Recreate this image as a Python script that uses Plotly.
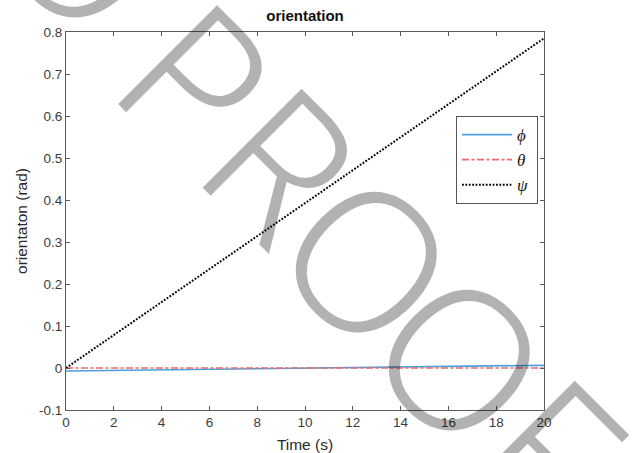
import plotly.graph_objects as go

# ---- data ----
time_s = [0, 5, 10, 15, 20]
phi = [-0.0071, -0.0037, -0.0004, 0.0030, 0.0064]
theta = [0.0, 0.0, 0.0, 0.0, 0.0]
psi = [0.0, 0.196, 0.393, 0.589, 0.785]

x_ticks = [0, 2, 4, 6, 8, 10, 12, 14, 16, 18, 20]
y_ticks = [-0.1, 0, 0.1, 0.2, 0.3, 0.4, 0.5, 0.6, 0.7, 0.8]
y_tick_text = ["-0.1", "0", "0.1", "0.2", "0.3", "0.4", "0.5", "0.6", "0.7", "0.8"]

W, H = 635, 453
L, R, T, B = 66, 91, 32, 43
PW, PH = W - L - R, H - T - B

AX = "#5a5a5a"
FONT = "Liberation Sans, Arial, Helvetica, sans-serif"
NB = "\u00a0"

fig = go.Figure()
fig.add_trace(go.Scatter(x=time_s, y=phi, mode="lines", name="<i>ϕ</i>" + NB,
                         line=dict(color="#4a9fdc", width=1.7)))
fig.add_trace(go.Scatter(x=time_s, y=theta, mode="lines", name="<i>θ</i>" + NB,
                         line=dict(color="#f06a6a", width=1.7, dash="7px,2.5px,3px,2.5px")))
fig.add_trace(go.Scatter(x=time_s, y=psi, mode="lines", name="<i>ψ</i>" + NB,
                         line=dict(color="#000000", width=2, dash="1.8px,1.6px")))

axis_common = dict(showline=True, linecolor=AX, linewidth=1.2, mirror="ticks",
                   ticks="inside", ticklen=4, tickcolor=AX, tickwidth=1,
                   showgrid=False, zeroline=False, automargin=False,
                   tickfont=dict(family=FONT, size=13.5, color="#3c3c3c"))

fig.update_xaxes(range=[0, 20], tickvals=x_ticks, ticktext=[str(v) for v in x_ticks],
                 title=dict(text="Time (s)", font=dict(family=FONT, size=15.5, color="#2a2a2a"),
                            standoff=12),
                 **axis_common)
fig.update_yaxes(range=[-0.1, 0.8], tickvals=y_ticks, ticktext=y_tick_text,
                 title=dict(text="orientaton (rad)", font=dict(family=FONT, size=15.5, color="#2a2a2a"),
                            standoff=7),
                 **axis_common)

# watermark letters (decoration), positions in pixel space of the page
wm = [("O", 88, -58), ("P", 199, 76), ("R", 285, 161), ("O", 371, 257),
      ("O", 464, 355), ("F", 551, 446)]
for ch, px, py in wm:
    fig.add_annotation(text="<span style='font-stretch:75%'>" + ch + "</span>",
                       xref="paper", yref="paper",
                       x=(px - L) / PW, y=(H - B - py) / PH,
                       xanchor="center", yanchor="middle", showarrow=False,
                       textangle=45,
                       font=dict(family="Noto Sans, Roboto, Liberation Sans",
                                 size=196, weight=300, color="rgba(0,0,0,0.3)"))

fig.update_layout(
    width=W, height=H,
    margin=dict(l=L, r=R, t=T, b=B),
    paper_bgcolor="white", plot_bgcolor="white",
    title=dict(text="<b>orientation</b>", x=(305 - L) / PW, xref="paper", xanchor="center",
               y=1 - 16 / H, yanchor="middle", font=dict(family=FONT, size=15, color="#111111")),
    showlegend=True,
    legend=dict(x=(456 - L) / PW, y=(H - B - 116) / PH, xanchor="left", yanchor="top",
                bgcolor="white", bordercolor="#555555", borderwidth=1,
                font=dict(family="Liberation Serif, DejaVu Serif, serif", size=17, color="#111111"),
                itemwidth=50, tracegroupgap=0),
)

fig.write_html("out.html", config={"displayModeBar": False},
               post_script="document.body.style.margin='0px';")
